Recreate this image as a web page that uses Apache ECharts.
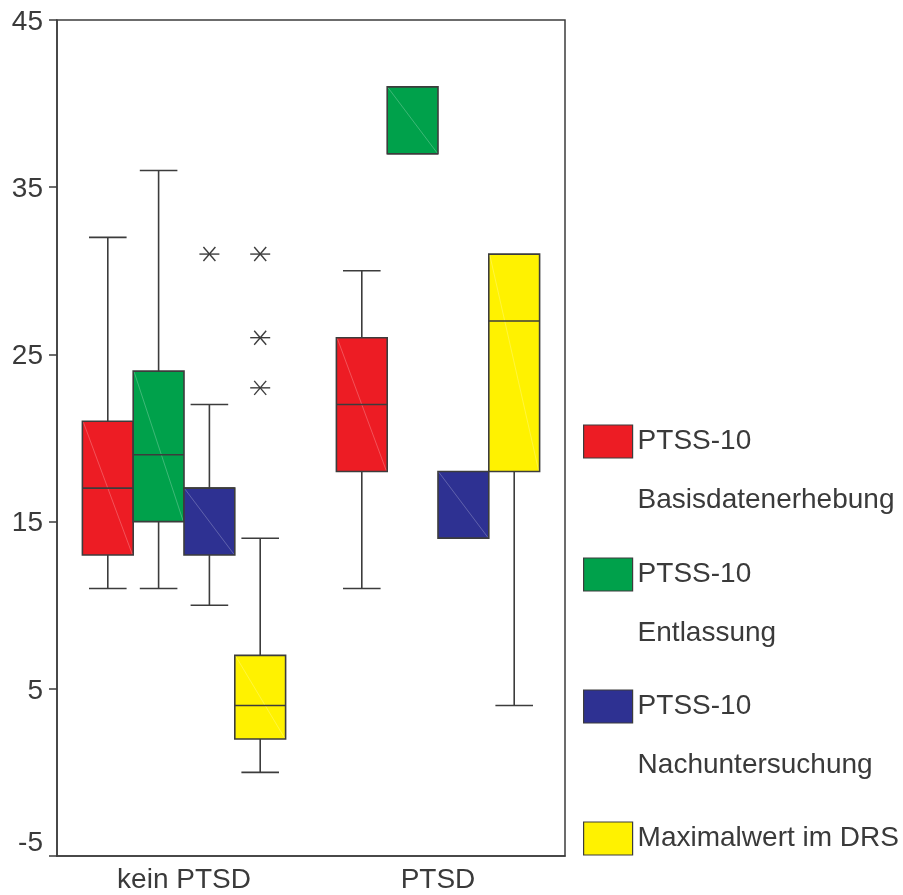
<!DOCTYPE html>
<html>
<head>
<meta charset="utf-8">
<script src="https://cdn.jsdelivr.net/npm/echarts@6/dist/echarts.min.js"></script>
<style>html,body{margin:0;padding:0;background:#fff}#c{width:903px;height:895px}</style>
</head>
<body>
<div id="c"></div>
<script>
// ---- data ----
const categories = ['kein PTSD', 'PTSD'];
const yTicks = [-5, 5, 15, 25, 35, 45];
const seriesNames = ['PTSS-10 Basisdatenerhebung', 'PTSS-10 Entlassung', 'PTSS-10 Nachuntersuchung', 'Maximalwert im DRS'];
const legendLabels = [' \nPTSS-10\nBasisdatenerhebung', ' \nPTSS-10\nEntlassung', ' \nPTSS-10\nNachuntersuchung', ' \nMaximalwert im DRS\n '];
const colors = ['#ED1C24', '#00A14B', '#2E3192', '#FFF200'];
// [category index, lower whisker, Q1, median, Q3, upper whisker]
const basisBoxes = [[0, 11, 13, 17, 21, 32], [1, 11, 18, 22, 26, 30]];
const entlassungBoxes = [[0, 11, 15, 19, 24, 36], [1, 37, 37, 37, 41, 41]];
const nachBoxes = [[0, 10, 13, 17, 17, 22], [1, 14, 14, 14, 18, 18]];
const drsBoxes = [[0, 0, 2, 4, 7, 14], [1, 4, 18, 27, 31, 31]];
// outliers: [category index, value]
const basisOutliers = [];
const entlassungOutliers = [];
const nachOutliers = [[0, 31]];
const drsOutliers = [[0, 31], [0, 26], [0, 23]];

const boxData = [basisBoxes, entlassungBoxes, nachBoxes, drsBoxes];
const outlierData = [basisOutliers, entlassungOutliers, nachOutliers, drsOutliers];

const EDGE = '#3c3c3c';
const TXT = '#3a3a3a';
const FONT = '"Liberation Sans", Arial, sans-serif';
const FS = 28;
const NS = seriesNames.length;

function boxGeom(api, cat, idx) {
  const center = api.coord([cat, 0])[0];
  const band = api.size([1, 0])[0];
  const bw = band * 0.8 / NS;
  const left = center - band * 0.4 + idx * bw;
  return { left: left, bw: bw, cx: left + bw / 2 };
}

function boxRender(idx) {
  return function (params, api) {
    const cat = api.value(0);
    const lo = api.value(1), q1 = api.value(2), med = api.value(3), q3 = api.value(4), hi = api.value(5);
    const g = boxGeom(api, cat, idx);
    const y = v => api.coord([cat, v])[1];
    const yLo = y(lo), yQ1 = y(q1), yMed = y(med), yQ3 = y(q3), yHi = y(hi);
    const cap = g.bw * 0.37;
    const lineStyle = { stroke: EDGE, lineWidth: 1.6 };
    const ch = [];
    if (hi > q3) {
      ch.push({ type: 'line', shape: { x1: g.cx, y1: yQ3, x2: g.cx, y2: yHi }, style: lineStyle });
      ch.push({ type: 'line', shape: { x1: g.cx - cap, y1: yHi, x2: g.cx + cap, y2: yHi }, style: lineStyle });
    }
    if (lo < q1) {
      ch.push({ type: 'line', shape: { x1: g.cx, y1: yQ1, x2: g.cx, y2: yLo }, style: lineStyle });
      ch.push({ type: 'line', shape: { x1: g.cx - cap, y1: yLo, x2: g.cx + cap, y2: yLo }, style: lineStyle });
    }
    ch.push({ type: 'rect', shape: { x: g.left, y: yQ3, width: g.bw, height: yQ1 - yQ3 },
      style: { fill: api.visual('color'), stroke: EDGE, lineWidth: 1.6 } });
    ch.push({ type: 'line', shape: { x1: g.left + 1, y1: yQ3 + 1, x2: g.left + g.bw - 1, y2: yQ1 - 1 },
      style: { stroke: 'rgba(255,255,255,0.3)', lineWidth: 0.8 } });
    ch.push({ type: 'line', shape: { x1: g.left, y1: yMed, x2: g.left + g.bw, y2: yMed }, style: lineStyle });
    return { type: 'group', children: ch };
  };
}

function outlierRender(idx) {
  return function (params, api) {
    const cat = api.value(0);
    const g = boxGeom(api, cat, idx);
    const p = api.coord([cat, api.value(1)]);
    const st = { stroke: EDGE, lineWidth: 1.4 };
    return { type: 'group', children: [
      { type: 'line', shape: { x1: g.cx - 10, y1: p[1], x2: g.cx + 10, y2: p[1] }, style: st },
      { type: 'line', shape: { x1: g.cx - 6, y1: p[1] - 7, x2: g.cx + 6, y2: p[1] + 7 }, style: st },
      { type: 'line', shape: { x1: g.cx - 6, y1: p[1] + 7, x2: g.cx + 6, y2: p[1] - 7 }, style: st }
    ] };
  };
}

const series = [];
seriesNames.forEach((name, i) => {
  series.push({ type: 'custom', name: name, data: boxData[i], renderItem: boxRender(i),
    itemStyle: { color: colors[i] }, encode: { x: 0, y: [1, 2, 3, 4, 5] }, z: 3 });
});
seriesNames.forEach((name, i) => {
  if (outlierData[i].length) {
    series.push({ type: 'custom', name: name, data: outlierData[i], renderItem: outlierRender(i),
      itemStyle: { color: colors[i] }, encode: { x: 0, y: 1 }, z: 4 });
  }
});

// one legend block per series; icon tops at 425, 558, 690, 822
const legendIconTops = [425, 558, 690, 822];
const LH = 59;
const legends = seriesNames.map((name, i) => ({
  orient: 'vertical', left: 583, top: legendIconTops[i] - (1.5 * LH - 16.5), padding: 0,
  itemWidth: 49, itemHeight: 33, icon: 'rect', selectedMode: false,
  data: [name],
  formatter: () => legendLabels[i],
  itemStyle: { borderColor: EDGE, borderWidth: 1.2 },
  textStyle: { color: TXT, fontSize: FS, fontFamily: FONT, lineHeight: LH }
}));

const chart = echarts.init(document.getElementById('c'), null, { renderer: 'canvas' });
chart.setOption({
  backgroundColor: '#fff',
  animation: false,
  color: colors,
  textStyle: { fontFamily: FONT },
  grid: { left: 57, right: 338, top: 20, bottom: 39, show: true, borderColor: EDGE, borderWidth: 1.5, backgroundColor: 'transparent' },
  xAxis: {
    type: 'category', data: categories, boundaryGap: true,
    axisLine: { onZero: false, lineStyle: { color: EDGE, width: 1.5 } },
    axisTick: { alignWithLabel: true, length: 6, lineStyle: { color: EDGE, width: 1 } },
    axisLabel: { color: TXT, fontSize: FS, fontFamily: FONT, margin: 10 },
    splitLine: { show: false }
  },
  yAxis: {
    type: 'value', min: yTicks[0], max: yTicks[yTicks.length - 1], interval: yTicks[1] - yTicks[0],
    axisLine: { show: true, lineStyle: { color: EDGE, width: 1.5 } },
    axisTick: { show: true, length: 8, lineStyle: { color: EDGE, width: 1.5 } },
    axisLabel: {
      color: TXT, fontSize: FS, fontFamily: FONT, margin: 14,
      formatter: v => v === yTicks[0] ? '{lo|' + v + '}' : '{n|' + v + '}',
      rich: {
        lo: { color: TXT, fontSize: FS, fontFamily: FONT, padding: [0, 0, 26, 0] },
        n: { color: TXT, fontSize: FS, fontFamily: FONT, padding: [4, 0, 0, 0] }
      }
    },
    splitLine: { show: false }
  },
  legend: legends,
  series: series
});
</script>
</body>
</html>
